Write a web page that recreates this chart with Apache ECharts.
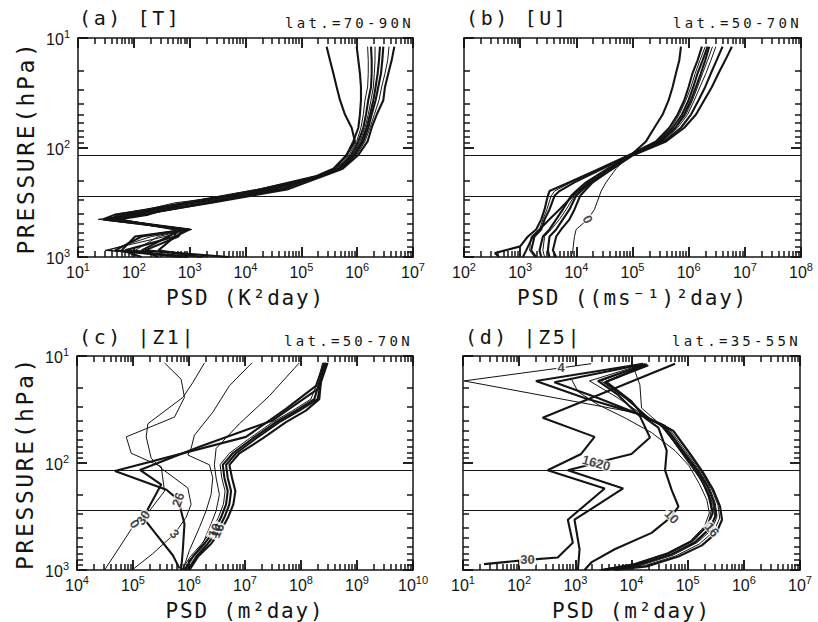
<!DOCTYPE html>
<html>
<head>
<meta charset="utf-8">
<script src="https://cdn.jsdelivr.net/npm/echarts@6/dist/echarts.min.js"></script>
<style>
  html, body { margin: 0; padding: 0; background: #fff; }
  #chart { width: 818px; height: 622px; }
  /* plotter-style wide lettering */
  #chart text[style*="20px"] { letter-spacing: 2.6px; }
  #chart text[style*="14px"] { letter-spacing: 3.3px; }
  #chart text[style*="21px"] { letter-spacing: 1.8px; }
  #chart text[style*="23px"] { letter-spacing: 2.6px; }
</style>
</head>
<body>
<div id="chart"></div>
<script>
// ---------- (a) [T], lat. 70-90N : pressure levels (hPa) and PSD profiles (K^2 day)
const pLevelsA = [12, 16, 21, 28, 37, 50, 66, 88, 117, 156, 182, 240, 320, 410, 453, 560, 650, 870, 1000];
const tA1 = [2.84e5, 3.26e5, 3.74e5, 4.29e5, 4.93e5, 6.05e5, 7.97e5, 9.14e5, 6.48e5, 3.74e5, 1.88e5, 1.95e4, 824, 52.7, 40.1, 1010, 546, 69.5, 946];
const tA2 = [9.80e5, 1.05e6, 1.12e6, 1.17e6, 1.17e6, 1.12e6, 1.05e6, 8.53e5, 6.48e5, 4.01e5, 1.96e5, 2.57e4, 1090, 79.7, 30.5, 824, 138, 46.0, 719];
const tA3 = [1.54e6, 1.58e6, 1.58e6, 1.54e6, 1.38e6, 1.29e6, 1.17e6, 9.80e5, 7.14e5, 4.30e5, 2.01e5, 3.38e4, 1640, 105, 23.1, 946, 275, 105, 5650];
const tA4 = [1.77e6, 1.82e6, 1.82e6, 1.77e6, 1.58e6, 1.44e6, 1.29e6, 1.05e6, 7.76e5, 4.60e5, 2.07e5, 4.45e4, 2160, 138, 46.0, 719, 415, 138, 275];
const tA5 = [2.09e6, 2.09e6, 2.03e6, 1.95e6, 1.77e6, 1.58e6, 1.38e6, 1.12e6, 8.18e5, 4.80e5, 2.16e5, 5.10e4, 546, 69.5, 34.9, 1010, 208, 34.9, 2160];
const tA6 = [2.56e6, 2.46e6, 2.33e6, 2.14e6, 1.95e6, 1.70e6, 1.48e6, 1.20e6, 8.65e5, 5.00e5, 2.25e5, 1.95e4, 946, 182, 52.7, 546, 546, 275, 1640];
const tA7 = [2.94e6, 2.82e6, 2.67e6, 2.39e6, 2.14e6, 1.82e6, 1.58e6, 1.29e6, 9.14e5, 5.13e5, 2.31e5, 2.95e4, 1250, 46.0, 28.4, 883, 105, 60.5, 138];
const tA8 = [3.72e6, 3.52e6, 3.15e6, 2.75e6, 2.46e6, 2.03e6, 1.70e6, 1.38e6, 9.80e5, 5.28e5, 2.38e5, 3.87e4, 1880, 91.4, 32.6, 1090, 361, 30.5, 824];
const tA9 = [4.63e6, 4.15e6, 3.62e6, 3.15e6, 2.94e6, 2.24e6, 1.82e6, 1.54e6, 1.05e6, 5.50e5, 2.48e5, 5.85e4, 2480, 120, 43.0, 771, 627, 158, 4930];

// ---------- (b) [U], lat. 50-70N : PSD ((m/s)^2 day)
const pLevelsB = [12, 16, 21, 28, 37, 50, 66, 88, 117, 156, 208, 250, 276, 368, 453, 560, 650, 870, 1000];
const pLevelsB2 = [12, 16, 21, 28, 37, 50, 66, 88, 117, 156, 208, 250, 276, 368, 453, 560, 650, 800, 920, 1000];
const uB1 = [7.29e5, 6.81e5, 5.94e5, 5.18e5, 4.40e5, 3.44e5, 2.45e5, 1.74e5, 9.42e4, 4.45e4, 1.71e4, 1.06e4, 8.66e3, 5.01e3, 3.33e3, 2.21e3, 1.68e3, 1.28e3, 1.12e3];
const uB2 = [1.72e6, 1.44e6, 1.17e6, 9.97e5, 8.35e5, 6.36e5, 4.52e5, 2.62e5, 8.79e4, 2.58e4, 7.55e3, 3.33e3, 3.11e3, 2.72e3, 2.37e3, 1.93e3, 1.37e3, 1.0e3, 355, 420];
const uB3 = [1.97e6, 1.59e6, 1.31e6, 1.10e6, 8.94e5, 6.81e5, 4.84e5, 2.81e5, 9.04e4, 2.76e4, 8.09e3, 4.09e3, 3.57e3, 2.99e3, 2.54e3, 2.21e3, 1.57e3, 1.47e3, 1.80e3];
const uB4 = [2.17e6, 1.77e6, 1.44e6, 1.21e6, 9.97e5, 7.59e5, 5.18e5, 3.00e5, 9.29e4, 2.95e4, 9.27e3, 5.01e3, 4.09e3, 3.33e3, 2.72e3, 2.37e3, 1.80e3, 1.57e3, 1.93e3];
const uB5 = [2.32e6, 1.97e6, 1.65e6, 1.35e6, 1.10e6, 8.35e5, 5.78e5, 3.22e5, 9.55e4, 3.62e4, 1.49e4, 9.92e3, 8.09e3, 5.75e3, 4.38e3, 3.33e3, 2.54e3, 2.21e3, 2.37e3];
const uB6 = [3.05e6, 2.49e6, 2.03e6, 1.59e6, 1.26e6, 9.57e5, 6.36e5, 3.44e5, 9.81e4, 3.88e4, 1.60e4, 1.14e4, 9.27e3, 6.59e3, 5.01e3, 3.57e3, 2.72e3, 2.54e3, 2.72e3];
const uB7 = [4.01e6, 3.14e6, 2.49e6, 1.97e6, 1.50e6, 1.10e6, 7.29e5, 3.68e5, 1.01e5, 4.16e4, 1.83e4, 1.22e4, 9.92e3, 7.55e3, 5.75e3, 4.38e3, 3.33e3, 3.11e3, 3.33e3];
const uB8 = [5.87e6, 4.47e6, 3.40e6, 2.59e6, 1.89e6, 1.35e6, 8.35e5, 3.95e5, 1.04e5, 4.45e4, 1.96e4, 1.40e4, 1.17e4, 9.27e3, 7.55e3, 5.37e3, 4.38e3, 3.82e3, 4.38e3];
const uB0 = [2.66e6, 2.17e6, 1.77e6, 1.44e6, 1.17e6, 8.94e5, 5.94e5, 3.22e5, 8.79e4, 5.10e4, 3.39e4, 2.76e4, 2.58e4, 2.10e4, 1.60e4, 9.92e3, 9.27e3, 8.66e3, 8.09e3];

// ---------- (c) |Z1|, lat. 50-70N : [PSD (m^2 day), hPa] pairs
const zC0 = [[3.65e5, 11.6], [7.24e5, 16.5], [8.30e5, 24.4], [5.51e5, 37.2], [7.57e4, 57], [9.30e4, 81.1], [3.19e5, 108], [3.65e5, 183], [1.97e5, 280], [1.07e5, 371], [5.77e4, 610], [3.11e4, 1000]];
const zC3 = [[1.89e6, 11.6], [1.17e6, 17.7], [7.75e5, 24.4], [1.84e5, 43], [1.72e5, 57], [2.11e5, 90.2], [3.19e5, 112], [9.52e5, 171], [1.09e6, 243], [8.89e5, 322], [5.51e5, 459], [2.26e5, 702], [9.96e4, 986]];
const zCt1 = [[1.33e7, 11.6], [5.26e6, 19.0], [2.66e6, 33.5], [1.25e6, 55], [1.09e6, 73], [9.52e5, 84.1], [2.32e6, 104], [2.66e6, 138], [2.48e6, 197], [2.02e6, 280], [1.54e6, 399], [1.02e6, 654], [7.75e5, 1000]];
const zCt2 = [[9.32e7, 11.6], [2.72e7, 23.6], [7.94e6, 43], [3.05e6, 73], [2.84e6, 104], [3.05e6, 138], [3.49e6, 197], [3.05e6, 280], [2.48e6, 371], [1.76e6, 568], [1.02e6, 808], [8.89e5, 1000]];
const zC10 = [[2.78e8, 11.6], [2.12e8, 17.7], [1.73e8, 25.3], [8.12e7, 32.4], [3.57e7, 41.5], [1.37e7, 59], [6.04e6, 81.1], [4.01e6, 104], [4.29e6, 138], [4.92e6, 183], [4.59e6, 243], [3.74e6, 322], [2.84e6, 428], [1.89e6, 568], [1.17e6, 753], [8.30e5, 1000]];
const zC16 = [[2.98e8, 11.6], [2.26e8, 17.7], [1.98e8, 25.3], [9.32e7, 32.4], [4.10e7, 41.5], [1.57e7, 59], [6.92e6, 81.1], [4.59e6, 104], [4.92e6, 138], [5.64e6, 183], [5.26e6, 243], [4.29e6, 322], [3.26e6, 428], [2.16e6, 568], [1.34e6, 753], [9.52e5, 1000]];
const zC7 = [[2.43e8, 11.6], [1.98e8, 17.7], [1.50e8, 25.3], [7.08e7, 32.4], [3.12e7, 41.5], [1.20e7, 59], [5.26e6, 81.1], [3.59e6, 104], [3.85e6, 138], [4.41e6, 183], [4.12e6, 243], [3.35e6, 322], [2.55e6, 428], [1.69e6, 568], [1.05e6, 753], [7.45e5, 1000]];
const zC5 = [[2.60e8, 11.6], [2.26e8, 17.7], [2.12e8, 25.3], [1.22e8, 32.4], [5.39e7, 41.5], [2.07e7, 59], [7.94e6, 81.1], [5.26e6, 104], [5.87e6, 138], [6.73e6, 183], [6.20e6, 243], [4.99e6, 322], [3.74e6, 428], [2.48e6, 568], [1.44e6, 753], [1.02e6, 1000]];
const zC26 = [[2.60e8, 11.6], [1.85e8, 19.0], [5.39e7, 31.2], [1.04e7, 57], [4.75e4, 119], [3.96e5, 178], [6.40e5, 220], [8.30e5, 371], [7.75e5, 654], [7.24e5, 1000]];
const zC30 = [[2.78e8, 11.6], [1.98e8, 20.4], [3.12e7, 40.0], [1.54e6, 70.5], [1.33e5, 116], [3.19e5, 159], [1.52e5, 325], [2.42e5, 443], [5.14e5, 728], [6.76e5, 966]];

// ---------- (d) |Z5|, lat. 35-55N : [PSD (m^2 day), hPa] pairs
const zD1 = [[1.62e4, 11.8], [199, 17.1], [1460, 24.7], [1.15e4, 34.0], [3.45e4, 43.6], [6.85e4, 71.4], [1.19e5, 105], [1.92e5, 156], [2.53e5, 222], [2.79e5, 294], [2.20e5, 390], [1.19e5, 537], [4.54e4, 697], [1.15e4, 881], [2900, 1000]];
const zD2 = [[1.51e4, 12.0], [424, 17.6], [2530, 24.7], [1.41e4, 35.2], [3.96e4, 45.1], [7.87e4, 74.0], [1.36e5, 109], [2.20e5, 161], [2.90e5, 230], [3.19e5, 305], [2.53e5, 404], [1.36e5, 548], [5.20e4, 713], [1.32e4, 893], [3330, 1000]];
const zD3 = [[1.73e4, 11.8], [1790, 17.1], [5770, 24.7], [1.73e4, 36.5], [4.54e4, 46.7], [9.02e4, 76.7], [1.52e5, 113], [2.43e5, 167], [3.11e5, 238], [3.33e5, 316], [2.71e5, 419], [1.46e5, 556], [5.57e4, 723], [1.47e4, 906], [3820, 1000]];
const zD4 = [[1.86e4, 11.8], [2900, 17.1], [7600, 24.7], [1.99e4, 37.8], [5.20e4, 48.4], [1.01e5, 79.4], [1.67e5, 117], [2.64e5, 173], [3.47e5, 247], [3.72e5, 327], [2.94e5, 434], [1.61e5, 572], [6.14e4, 738], [1.64e4, 918], [4380, 1000]];
const zD5 = [[1.99e4, 12.2], [3330, 17.6], [8710, 25.6], [2.13e4, 39.2], [5.57e4, 50.1], [1.11e5, 82.3], [1.85e5, 121], [2.87e5, 179], [3.77e5, 255], [4.09e5, 339], [3.24e5, 450], [1.79e5, 589], [6.85e4, 748], [1.86e4, 925], [5020, 1000]];
const zD4w = [[1920, 11.8], [557, 12.9], [10.4, 17.1], [1.73e4, 35.2], [3.96e4, 48.4], [9.66e4, 94.8], [1.67e5, 140], [2.30e5, 199], [2.64e5, 274], [2.36e5, 364], [1.36e5, 518], [5.20e4, 684], [1.41e4, 861], [5020, 1000]];
const zD6 = [[1.0e4, 11.4], [1.41e4, 18.6], [1.51e4, 30.6], [3.01e4, 42.1], [6.85e4, 71.4], [1.27e5, 109], [2.11e5, 167], [2.79e5, 238], [3.03e5, 316], [2.43e5, 419], [1.40e5, 556], [5.06e4, 718], [1.35e4, 899], [3560, 1000]];
const zD7 = [[841, 16.2], [1110, 21.5], [2530, 28.5], [7600, 37.8], [2.28e4, 52.0], [5.97e4, 76.7], [1.04e5, 105], [1.61e5, 156], [2.20e5, 222], [2.43e5, 294], [2.00e5, 390], [1.11e5, 537], [4.24e4, 697], [1.12e4, 881], [2710, 1000]];
const zD30 = [[5.97e4, 11.8], [262, 37.8], [2200, 57.0], [1270, 82.3], [321, 117], [3330, 173], [735, 339], [902, 556], [486, 765], [141, 804], [23.6, 881]];
const zD20 = [[1.73e4, 12.0], [2530, 17.1], [5770, 23.1], [1.41e4, 36.5], [2.13e4, 57.8], [1.0e4, 82.3], [4380, 91.6], [2360, 100], [735, 117], [7100, 173], [966, 339], [1190, 640], [1110, 1000]];
const zD10 = [[1.86e4, 12.0], [3560, 17.4], [1.0e4, 26.5], [1.73e4, 37.8], [3.01e4, 46.7], [4.24e4, 76.7], [3.96e4, 117], [5.20e4, 179], [6.85e4, 255], [5.20e4, 316], [2.28e4, 450], [5020, 640], [1920, 850], [1460, 1000]];

// reference levels drawn across every panel (hPa)
const refLevels = [117, 277];

// panel texts
const panelTitles = ['(a) [T]', '(b) [U]', '(c) |Z1|', '(d) |Z5|'];
const latTexts = ['lat.=70-90N', 'lat.=50-70N', 'lat.=50-70N', 'lat.=35-55N'];
const xNames = ['PSD (K\u00B2day)', 'PSD ((ms\u207B\u00B9)\u00B2day)', 'PSD (m\u00B2day)', 'PSD (m\u00B2day)'];
const xRanges = [[1e1, 1e7], [1e2, 1e8], [1e4, 1e10], [1e1, 1e7]];
const yRange = [10, 1000];
const yName = 'PRESSURE(hPa)';

const zip = (ps, xs) => xs.map((x, i) => [x, ps[i]]);

const INK = '#141414';
const MONO = 'DejaVu Sans Mono';

const grids = [
  { left: 78, top: 38, width: 335, height: 219 },
  { left: 464, top: 38, width: 337, height: 219 },
  { left: 77, top: 356, width: 336, height: 217 },
  { left: 463, top: 356, width: 337, height: 216 }
];

// profiles of each panel: [points, thick]
const panelLines = [
  [[zip(pLevelsA, tA1), 1], [zip(pLevelsA, tA2), 1], [zip(pLevelsA, tA3), 0], [zip(pLevelsA, tA4), 1],
   [zip(pLevelsA, tA5), 0], [zip(pLevelsA, tA6), 1], [zip(pLevelsA, tA7), 1], [zip(pLevelsA, tA8), 0], [zip(pLevelsA, tA9), 1]],
  [[zip(pLevelsB, uB1), 1], [zip(pLevelsB2, uB2), 1], [zip(pLevelsB, uB3), 0], [zip(pLevelsB, uB4), 1],
   [zip(pLevelsB, uB5), 1], [zip(pLevelsB, uB6), 0], [zip(pLevelsB, uB7), 1], [zip(pLevelsB, uB8), 1], [zip(pLevelsB, uB0), 0]],
  [[zC0, 0], [zC3, 0], [zCt1, 0], [zCt2, 0], [zC10, 1], [zC16, 1], [zC7, 0], [zC5, 1], [zC26, 1], [zC30, 1]],
  [[zD1, 1], [zD2, 1], [zD3, 0], [zD4, 0], [zD5, 1], [zD4w, 0], [zD6, 0], [zD7, 0], [zD30, 1], [zD20, 1], [zD10, 1]]
];

// in-line curve labels: [panel, points, index, text, rotation]
const curveLabels = [
  [1, zip(pLevelsB, uB0), 14, '0', 60],
  [2, zC0, 9, '0', 55],
  [2, zC3, 10, '3', 45],
  [2, zC30, 6, '30', -55],
  [2, zC26, 6, '26', -70],
  [2, zC10, 12, '10', -65],
  [2, zC16, 12, '16', -65],
  [3, zD4w, 1, '4', 0],
  [3, zD20, 7, '1620', 15],
  [3, zD10, 9, '10', 45],
  [3, zD30, 9, '30', 0],
  [3, zD3, 10, '16', 50]
];

// decade tick label as 10 with a raised exponent
function powLabel(v) {
  return '{b|10}{s|' + Math.round(Math.log10(v)) + '}';
}
const powRich = {
  b: { fontSize: 16, fontFamily: 'Liberation Sans', color: INK, verticalAlign: 'bottom', lineHeight: 19 },
  s: { fontSize: 11, fontFamily: 'Liberation Sans', color: INK, verticalAlign: 'top', lineHeight: 19 }
};

// [value, isDecade] for 1..9 x 10^k inside a log range
function logTickValues(r) {
  const out = [];
  const e0 = Math.round(Math.log10(r[0])), e1 = Math.round(Math.log10(r[1]));
  for (let e = e0; e <= e1; e++) {
    for (let m = 1; m <= 9; m++) {
      const v = m * Math.pow(10, e);
      if (v > r[1] * 1.0001) break;
      out.push([v, m === 1]);
    }
  }
  return out;
}

// inward frame ticks as short marker segments (lengths in pixels),
// anchored a hair inside the frame so every segment stays within the axis extent
function frameTickMarks(xr, g) {
  const stepX = len => Math.pow(10, len * Math.log10(xr[1] / xr[0]) / g.width);
  const stepY = len => Math.pow(10, len * Math.log10(yRange[1] / yRange[0]) / g.height);
  const eps = 1.0005;
  const inX = v => Math.min(Math.max(v, xr[0] * eps), xr[1] / eps);
  const inY = p => Math.min(Math.max(p, yRange[0] * eps), yRange[1] / eps);
  const marks = [];
  logTickValues(xr).forEach(([v, major]) => {
    const k = stepY(major ? 10 : 6);
    const x = inX(v);
    marks.push([{ coord: [x, yRange[1] / eps] }, { coord: [x, yRange[1] / k] }]);
    marks.push([{ coord: [x, yRange[0] * eps] }, { coord: [x, yRange[0] * k] }]);
  });
  logTickValues(yRange).forEach(([p, major]) => {
    const k = stepX(major ? 10 : 6);
    const y = inY(p);
    marks.push([{ coord: [xr[0] * eps, y] }, { coord: [xr[0] * k, y] }]);
    marks.push([{ coord: [xr[1] / eps, y] }, { coord: [xr[1] / k, y] }]);
  });
  return marks;
}

const xAxes = [], yAxes = [], series = [], titles = [];
const titleLeft = [79, 466, 79, 465];
const titleTop = [8, 8, 327, 327];
const latLeft = [285, 673, 284, 672];
const latTop = [16, 16, 334, 334];

const FRAME = { show: true, lineStyle: { color: INK, width: 1.5 } };
const MAJOR_TICK = { show: true, inside: true, length: 10, lineStyle: { color: INK, width: 1.5 } };

// companion axis drawing the opposite edge of a frame with its decade ticks
function edgeAxis(dim, gi, range, position) {
  const ax = {
    type: 'log', logBase: 10, gridIndex: gi, min: range[0], max: range[1], position: position,
    axisLine: FRAME, splitLine: { show: false }, axisLabel: { show: false }, axisTick: MAJOR_TICK
  };
  if (dim === 'y') ax.inverse = true;
  return ax;
}

grids.forEach((g, gi) => {
  const showY = gi === 0 || gi === 2;
  xAxes.push({
    type: 'log', logBase: 10, gridIndex: gi, min: xRanges[gi][0], max: xRanges[gi][1], position: 'bottom',
    axisLine: FRAME, splitLine: { show: false }, axisTick: MAJOR_TICK,
    axisLabel: { formatter: powLabel, rich: powRich, margin: 4, showMinLabel: true, showMaxLabel: true },
    name: xNames[gi], nameLocation: 'middle', nameGap: 30, nameMoveOverlap: false,
    nameTextStyle: { fontFamily: MONO, fontSize: 21, color: INK }
  });
  xAxes.push(edgeAxis('x', gi, xRanges[gi], 'top'));
  yAxes.push({
    type: 'log', logBase: 10, gridIndex: gi, min: yRange[0], max: yRange[1], inverse: true, position: 'left',
    axisLine: FRAME, splitLine: { show: false }, axisTick: MAJOR_TICK,
    axisLabel: { show: showY, formatter: powLabel, rich: powRich, margin: 8, showMinLabel: true, showMaxLabel: true },
    name: showY ? yName : '', nameLocation: 'middle', nameRotate: 90, nameGap: 41, nameMoveOverlap: false,
    nameTextStyle: { fontFamily: MONO, fontSize: 23, color: INK }
  });
  yAxes.push(edgeAxis('y', gi, yRange, 'right'));

  const xi = 2 * gi, yi = 2 * gi;

  titles.push({ text: panelTitles[gi], left: titleLeft[gi], top: titleTop[gi], padding: 0,
    textStyle: { fontFamily: MONO, fontSize: 20, fontWeight: 'normal', color: INK } });
  titles.push({ text: latTexts[gi], left: latLeft[gi], top: latTop[gi], padding: 0,
    textStyle: { fontFamily: MONO, fontSize: 14, fontWeight: 'normal', color: INK } });

  // profiles; the first one also carries the reference levels and the frame ticks
  panelLines[gi].forEach(([pts, thick], li) => {
    const s = {
      type: 'line', xAxisIndex: xi, yAxisIndex: yi, data: pts,
      showSymbol: false, symbol: 'none', silent: true, clip: true, z: 3,
      lineStyle: { color: INK, width: thick ? 2.1 : 1 }
    };
    if (li === 0) {
      const refs = refLevels.map(v => [{ coord: [xRanges[gi][0], v] }, { coord: [xRanges[gi][1], v] }]);
      const ticks = frameTickMarks(xRanges[gi], g).map(seg => {
        seg[0].lineStyle = { width: 1.5, color: INK };
        return seg;
      });
      s.markLine = {
        silent: true, symbol: ['none', 'none'], label: { show: false }, animation: false,
        lineStyle: { color: INK, width: 1.1, type: 'solid', opacity: 1 },
        emphasis: { disabled: true },
        data: refs.concat(ticks)
      };
    }
    series.push(s);
  });
  // curve labels
  const labs = curveLabels.filter(l => l[0] === gi);
  if (labs.length) {
    series.push({
      type: 'scatter', xAxisIndex: xi, yAxisIndex: yi, silent: true, z: 6,
      symbol: 'rect', itemStyle: { color: '#fff' },
      label: { show: true, position: 'inside', color: INK, fontSize: 13, fontWeight: 'bold', fontFamily: 'Liberation Sans' },
      data: labs.map(([, pts, idx, txt, rot]) => ({
        value: pts[idx],
        symbolSize: [txt.length * 7 + 3, 11],
        symbolRotate: -rot,
        label: { formatter: txt, rotate: -rot }
      }))
    });
  }
});

const chart = echarts.init(document.getElementById('chart'), null, { renderer: 'svg' });
chart.setOption({
  animation: false,
  backgroundColor: '#fff',
  title: titles,
  grid: grids.map(g => Object.assign({ show: false }, g)),
  xAxis: xAxes,
  yAxis: yAxes,
  series: series
});
</script>
</body>
</html>
